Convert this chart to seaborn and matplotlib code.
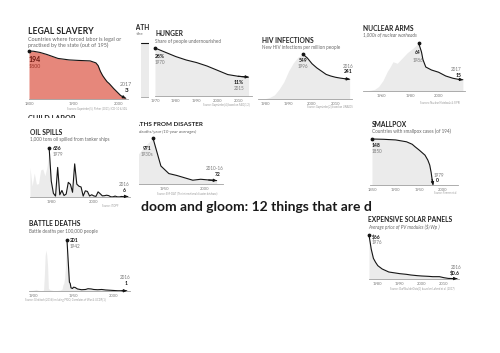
import matplotlib
matplotlib.use("Agg")
import matplotlib.pyplot as plt
import seaborn as sns

sns.set_style("white")
plt.rcParams['font.family'] = ['Lato', 'DejaVu Sans']

W, H = 500, 353

# ---- data ----
slavery_years = [1800, 1810, 1825, 1840, 1865, 1890, 1910, 1937, 1950, 1955, 1960, 1965, 1970, 1975,
                 1980, 1985, 1990, 1995, 2000, 2005, 2010, 2017]
slavery_vals = [194, 193, 188, 180, 164, 158, 156, 154, 146, 135, 112, 95, 82, 70,
                62, 52, 42, 33, 24, 15, 9, 3]

hunger_years = [1970, 1975, 1980, 1985, 1990, 1995, 2000, 2005, 2010, 2015]
hunger_vals = [28, 25.5, 23, 21, 19.5, 17.5, 15, 12.5, 11.5, 11]

hiv_years = [1977, 1980, 1982, 1984, 1986, 1988, 1990, 1992, 1994, 1996, 1998, 2000, 2002, 2004,
             2006, 2008, 2010, 2012, 2014, 2016]
hiv_vals = [0, 3, 20, 50, 120, 210, 340, 440, 510, 549, 500, 430, 380, 340,
            300, 280, 265, 255, 247, 241]

nuclear_years = [1947, 1950, 1955, 1958, 1961, 1964, 1966, 1968, 1971, 1975, 1978, 1982, 1986,
                 1988, 1989, 1991, 1995, 2000, 2005, 2010, 2014, 2017]
nuclear_vals = [0, 0.3, 2, 6, 14, 26, 32, 39, 37, 45, 51, 57, 64,
                52, 42, 32, 28, 25, 20, 17, 15.5, 15]

oil_years = [1970, 1971, 1972, 1973, 1974, 1975, 1976, 1977, 1978, 1979, 1980, 1981, 1982, 1983,
             1984, 1985, 1986, 1987, 1988, 1989, 1990, 1991, 1992, 1993, 1994, 1995, 1996, 1997,
             1998, 1999, 2000, 2001, 2002, 2003, 2004, 2005, 2006, 2007, 2008, 2009, 2010, 2011,
             2012, 2013, 2014, 2015, 2016]
oil_vals = [383, 144, 311, 166, 174, 351, 364, 276, 393, 636, 206, 48, 12, 384,
            29, 85, 19, 38, 190, 164, 61, 430, 167, 140, 130, 12, 80, 72,
            13, 29, 14, 8, 67, 42, 15, 17, 23, 18, 2, 2, 12, 2,
            1, 7, 4, 7, 6]

disaster_years = [1915, 1925, 1935, 1945, 1955, 1965, 1975, 1985, 1995, 2005, 2015]
disaster_vals = [600, 800, 971, 380, 220, 180, 130, 80, 100, 85, 72]

smallpox_years = [1850, 1875, 1900, 1923, 1935, 1941, 1950, 1962, 1968, 1972, 1975, 1977, 1979]
smallpox_vals = [148, 147, 145, 139, 131, 123, 112, 96, 80, 64, 40, 18, 0]

battle_years = [1895, 1900, 1904, 1906, 1910, 1913, 1914, 1915, 1916, 1917, 1918, 1919, 1921,
                1925, 1930, 1934, 1936, 1937, 1938, 1939, 1940, 1941, 1942, 1945, 1946, 1947,
                1949, 1950, 1952, 1955, 1960, 1965, 1968, 1972, 1975, 1980, 1985, 1990, 1995,
                2000, 2005, 2010, 2016]
battle_vals = [2, 3, 6, 3, 1, 3, 60, 140, 161, 140, 100, 10, 5,
               2, 2, 4, 8, 25, 30, 50, 90, 150, 201, 35, 30, 12,
               10, 15, 14, 8, 5, 6, 9, 8, 6, 5, 6, 4, 3,
               2, 1, 1, 1]

solar_years = [1976, 1977, 1978, 1979, 1980, 1982, 1985, 1988, 1990, 1993, 1995, 1998, 2000,
               2003, 2005, 2008, 2010, 2012, 2014, 2016]
solar_vals = [66, 45, 31, 25, 20, 15, 10.5, 9, 8, 7, 6, 5, 4.5,
              4, 3.5, 3.5, 2, 0.9, 0.7, 0.6]

penalty_years = [1950, 2010]
penalty_vals = [1, 1]

FILL = '#ebebeb'
RED = '#e6877b'
INK = '#151515'
GREY = '#7a7a7a'

fig = plt.figure(figsize=(W / 100, H / 100), dpi=100)


def box(x0, y0, x1, y1):
    return [x0 / W, 1 - y1 / H, (x1 - x0) / W, (y1 - y0) / H]


def panel(x0, y0, x1, y1, z):
    # white card that hides whatever lies underneath
    a = fig.add_axes(box(x0, y0, x1, y1), zorder=z)
    a.set_xticks([])
    a.set_yticks([])
    for s in a.spines.values():
        s.set_visible(False)
    a.patch.set_facecolor('white')
    return a


def ptext(a, x, y, s, size, **kw):
    kw.setdefault('color', '#222222')
    a.text(x / W, 1 - y / H, s, transform=fig.transFigure, fontsize=size,
           va='center', ha=kw.pop('ha', 'left'), clip_on=False, **kw)


def chart(rect, years, vals, hi, xlim, ymax, ticks, minor, z, fill=FILL, arrow=True):
    ax = fig.add_axes(box(*rect), zorder=z)
    ax.patch.set_alpha(0)
    ax.fill_between(years, vals, 0, color=fill, lw=0)
    sns.lineplot(x=years[hi:], y=vals[hi:], ax=ax, color=INK, lw=0.8, clip_on=False)
    if arrow:
        ax.annotate('', xy=(years[-1], vals[-1]), xytext=(years[-2], vals[-2]),
                    arrowprops=dict(arrowstyle='-|>', color=INK, lw=0.8,
                                    mutation_scale=4, shrinkA=0, shrinkB=0),
                    annotation_clip=False)
        ax.scatter([years[hi]], [vals[hi]], s=3, color=INK, clip_on=False, zorder=5)
    ax.set_xlim(*xlim)
    ax.set_ylim(0, ymax)
    for s in ['top', 'right', 'left']:
        ax.spines[s].set_visible(False)
    ax.spines['bottom'].set_color('#a0a0a0')
    ax.spines['bottom'].set_linewidth(0.6)
    ax.set_yticks([])
    ax.set_xticks(ticks)
    ax.set_xticks(minor, minor=True)
    ax.tick_params(axis='x', which='both', direction='out', length=1.5, width=0.4,
                   color='#a0a0a0', labelsize=3, labelcolor=GREY, pad=1)
    ax.set_xlabel('')
    ax.set_ylabel('')
    return ax


def label(ax, x, y, s, dx, dy, size=3.6, weight='normal', color=INK, ha='left'):
    ax.annotate(s, xy=(x, y), xytext=(dx, dy), textcoords='offset pixels', ha=ha,
                va='center', fontsize=size, fontweight=weight, color=color,
                annotation_clip=False)


# ---- hidden panels (mostly covered) ----
pen = panel(120, 18, 200, 110, 1)
ptext(pen, 127, 27, 'DEATH', 4.8, fontweight='bold')
ptext(pen, 107, 34, 'Countries with the', 3.2, color='#666666')
chart((141, 43, 200, 97), penalty_years, penalty_vals, 0, (1950, 2010), 1,
      [], [], 1.1, arrow=False)

lab = panel(20, 110, 140, 200, 1)
ptext(lab, 28, 118.8, 'CHILD LABOR', 5.2, fontweight='bold')

dis = panel(125, 117, 232, 198, 1)
ptext(dis, 127, 125, 'DEATHS FROM DISASTER', 4.6, fontweight='bold')
ptext(dis, 127, 132, '1,000 deaths/year (10-year averages)', 3.2, color='#666666', style='italic')
ptext(dis, 187, 193, 'Source: EM-DAT (The international disaster database)', 1.9,
      color='#999999', ha='center')
ax = chart((137, 138, 223, 184), disaster_years, disaster_vals, 2, (1915, 2023), 971,
           [1950, 2000], [1920, 1930, 1940, 1960, 1970, 1980, 1990, 2010, 2020], 1.1)
label(ax, disaster_years[2], disaster_vals[2], '971', -1, -10, weight='bold', ha='right')
label(ax, disaster_years[2], disaster_vals[2], '1930s', 0, -16, color=GREY, ha='right', size=3.3)
label(ax, disaster_years[-1], disaster_vals[-1], '2010-16', -2, 12, color=GREY, ha='center', size=3.3)
label(ax, disaster_years[-1], disaster_vals[-1], '72', 1, 6, weight='bold', ha='center')

# ---- legal slavery ----
sl = panel(15, 18, 136, 113, 2)
ptext(sl, 28, 31.5, 'LEGAL SLAVERY', 6.2, fontweight='bold')
ptext(sl, 28, 39.3, 'Countries where forced labor is legal or', 3.9, color='#666666')
ptext(sl, 28, 45.7, 'practised by the state (out of 195)', 3.9, color='#666666')
ptext(sl, 127, 109, 'Sources: Gapminder[5], Pinker (2011), ICD-10 & SDL', 1.9,
      color='#999999', ha='right')
ax = chart((29, 51, 128, 99), slavery_years, slavery_vals, 0, (1800, 2022), 194,
           [1800, 1900, 2000], [1825, 1850, 1875, 1925, 1950, 1975], 2.1, fill=RED)
label(ax, slavery_years[0], slavery_vals[0], '194', 0, -9, size=5, weight='bold', color='#6e1a12')
label(ax, slavery_years[0], slavery_vals[0], '1800', 0, -16, size=3.8, color='#9c3429')
label(ax, slavery_years[-1], slavery_vals[-1], '2017', 0, 14, size=3.8, color=GREY, ha='center')
label(ax, slavery_years[-1], slavery_vals[-1], '3', 1, 8, size=4.6, weight='bold', ha='center')

# ---- hunger ----
hu = panel(149, 22, 257, 110, 3)
ptext(hu, 155, 34, 'HUNGER', 4.8, fontweight='bold')
ptext(hu, 155, 41, 'Share of people undernourished', 3.3, color='#666666')
ptext(hu, 250, 105, 'Source: Gapminder[4] based on FAO[1,2]', 1.9, color='#999999', ha='right')
ax = chart((155, 48, 251.7, 96), hunger_years, hunger_vals, 0, (1970, 2016.5), 28,
           [1970, 1980, 1990, 2000, 2010], [1975, 1985, 1995, 2005, 2015], 3.1)
label(ax, hunger_years[0], hunger_vals[0], '28%', 0, -9, weight='bold')
label(ax, hunger_years[0], hunger_vals[0], '1970', 0, -14, color=GREY, size=3.3)
label(ax, hunger_years[-1], hunger_vals[-1], '11%', -5, -5, weight='bold', ha='right')
label(ax, hunger_years[-1], hunger_vals[-1], '2015', -4, -11, color=GREY, ha='right', size=3.3)

# ---- HIV ----
hv = panel(257, 28, 358, 112, 2)
ptext(hv, 262, 40.7, 'HIV INFECTIONS', 4.8, fontweight='bold')
ptext(hv, 262, 47.3, 'New HIV infections per million people', 3.3, color='#666666')
ptext(hv, 353, 107, 'Source: Gapminder[2] based on UNAIDS', 1.9, color='#999999', ha='right')
ax = chart((258, 54, 352, 99), hiv_years, hiv_vals, 9, (1977, 2017), 549,
           [1980, 1990, 2000, 2010], [1985, 1995, 2005, 2015], 2.1)
label(ax, hiv_years[9], hiv_vals[9], '549', 0, -7, weight='bold', ha='center')
label(ax, hiv_years[9], hiv_vals[9], '1996', 0, -13, color=GREY, ha='center', size=3.3)
label(ax, hiv_years[-1], hiv_vals[-1], '2016', -1, 13, color=GREY, ha='center', size=3.3)
label(ax, hiv_years[-1], hiv_vals[-1], '241', -1, 8, weight='bold', ha='center')

# ---- nuclear arms ----
nu = panel(358, 15, 480, 108, 2)
ptext(nu, 363, 28.3, 'NUCLEAR ARMS', 4.8, fontweight='bold')
ptext(nu, 363, 35, '1,000s of nuclear warheads', 3.3, color='#666666', style='italic')
ptext(nu, 460, 103, 'Sources: Nuclear Notebook & SIPRI', 1.9, color='#999999', ha='right')
ax = chart((363, 43, 465, 91), nuclear_years, nuclear_vals, 12, (1947, 2018.5), 64,
           [1960, 1980, 2000], [1950, 1970, 1990, 2010], 2.1)
label(ax, nuclear_years[12], nuclear_vals[12], '64', -1, -10, weight='bold', ha='center')
label(ax, nuclear_years[12], nuclear_vals[12], '1986', -1, -17, color=GREY, ha='center', size=3.3)
label(ax, nuclear_years[-1], nuclear_vals[-1], '2017', -1, 10, color=GREY, ha='right', size=3.3)
label(ax, nuclear_years[-1], nuclear_vals[-1], '15', -1, 4, weight='bold', ha='right')

# ---- oil spills ----
oi = panel(20, 118, 139, 215, 3)
ptext(oi, 30, 132.3, 'OIL SPILLS', 4.8, fontweight='bold')
ptext(oi, 30, 139.3, '1,000 tons oil spilled from tanker ships', 3.3, color='#666666')
ptext(oi, 118, 206, 'Source: ITOPF', 1.9, color='#999999', ha='right')
ax = chart((30, 148, 130, 197), oil_years, oil_vals, 9, (1970, 2017), 636,
           [1980, 2000], [1970, 1990, 2010], 3.1)
label(ax, oil_years[9], oil_vals[9], '636', 4, 0, weight='bold')
label(ax, oil_years[9], oil_vals[9], '1979', 4, -7, color=GREY, size=3.3)
label(ax, oil_years[-1], oil_vals[-1], '2016', -4, 12.5, color=GREY, ha='center', size=3.3)
label(ax, oil_years[-1], oil_vals[-1], '6', -4, 6.5, weight='bold', ha='center')

# ---- smallpox ----
sm = panel(360, 115, 472, 198, 2)
ptext(sm, 371.7, 125, 'SMALLPOX', 4.8, fontweight='bold')
ptext(sm, 371.7, 131, 'Countries with smallpox cases (of 194)', 3.3, color='#666666')
ptext(sm, 457, 193, 'Source: Fenner et al.', 1.9, color='#999999', ha='right')
ax = chart((370, 139, 458, 185), smallpox_years, smallpox_vals, 0, (1845.8, 2031.7), 148,
           [1850, 1900, 1950, 2000], [1875, 1925, 1975, 2025], 2.1)
label(ax, smallpox_years[0], smallpox_vals[0], '148', 0, -6, weight='bold')
label(ax, smallpox_years[0], smallpox_vals[0], '1850', 0, -12.5, color=GREY, size=3.3)
label(ax, smallpox_years[-1], smallpox_vals[-1], '1979', 1, 9.5, color=GREY, size=3.3)
label(ax, smallpox_years[-1], smallpox_vals[-1], '0', 3, 4, weight='bold')

# ---- battle deaths ----
ba = panel(20, 215, 140, 305, 2)
ptext(ba, 29.3, 224, 'BATTLE DEATHS', 4.8, fontweight='bold')
ptext(ba, 29.3, 231.7, 'Battle deaths per 100,000 people', 3.3, color='#666666')
ptext(ba, 25, 300, 'Source: Gleditsch (2016) including PRIO, Correlates of War & UCDP[1]', 1.9,
      color='#999999')
ax = chart((29, 240, 130, 291), battle_years, battle_vals, 22, (1895, 2020), 201,
           [1900, 1950, 2000], [1925, 1975], 2.1)
label(ax, battle_years[22], battle_vals[22], '201', 3, 0, weight='bold')
label(ax, battle_years[22], battle_vals[22], '1942', 3, -7, color=GREY, size=3.3)
label(ax, battle_years[-1], battle_vals[-1], '2016', -1.5, 13, color=GREY, ha='center', size=3.3)
label(ax, battle_years[-1], battle_vals[-1], '1', -1, 7.5, weight='bold', ha='center')

# ---- solar panels ----
so = panel(360, 213, 472, 293, 2)
ptext(so, 368.3, 220, 'EXPENSIVE SOLAR PANELS', 4.8, fontweight='bold')
ptext(so, 368.3, 226.7, 'Average price of PV modules ($/Wp )', 3.3, color='#666666', style='italic')
ptext(so, 455, 288, 'Source: OurWorldInData[3] based on Lafond et al. (2017)', 1.9,
      color='#999999', ha='right')
ax = chart((369, 235, 459, 279), solar_years, solar_vals, 0, (1976, 2016.9), 66,
           [1980, 1990, 2000, 2010], [1985, 1995, 2005, 2015], 2.1)
label(ax, solar_years[0], solar_vals[0], '$66', 3, -2, weight='bold')
label(ax, solar_years[0], solar_vals[0], '1976', 3, -7.5, color=GREY, size=3.3)
label(ax, solar_years[-1], solar_vals[-1], '2016', -1, 11, color=GREY, ha='center', size=3.3)
label(ax, solar_years[-1], solar_vals[-1], '$0.6', -2, 5.5, weight='bold', ha='center')

# ---- big headline (cut off by the solar panel card) ----
fig.text(141 / W, 1 - 207 / H, 'doom and gloom: 12 things that are d', fontsize=10,
         fontweight='bold', color='#1a1a1a', va='center', ha='left', zorder=5)

fig.savefig('out.png', dpi=100)
